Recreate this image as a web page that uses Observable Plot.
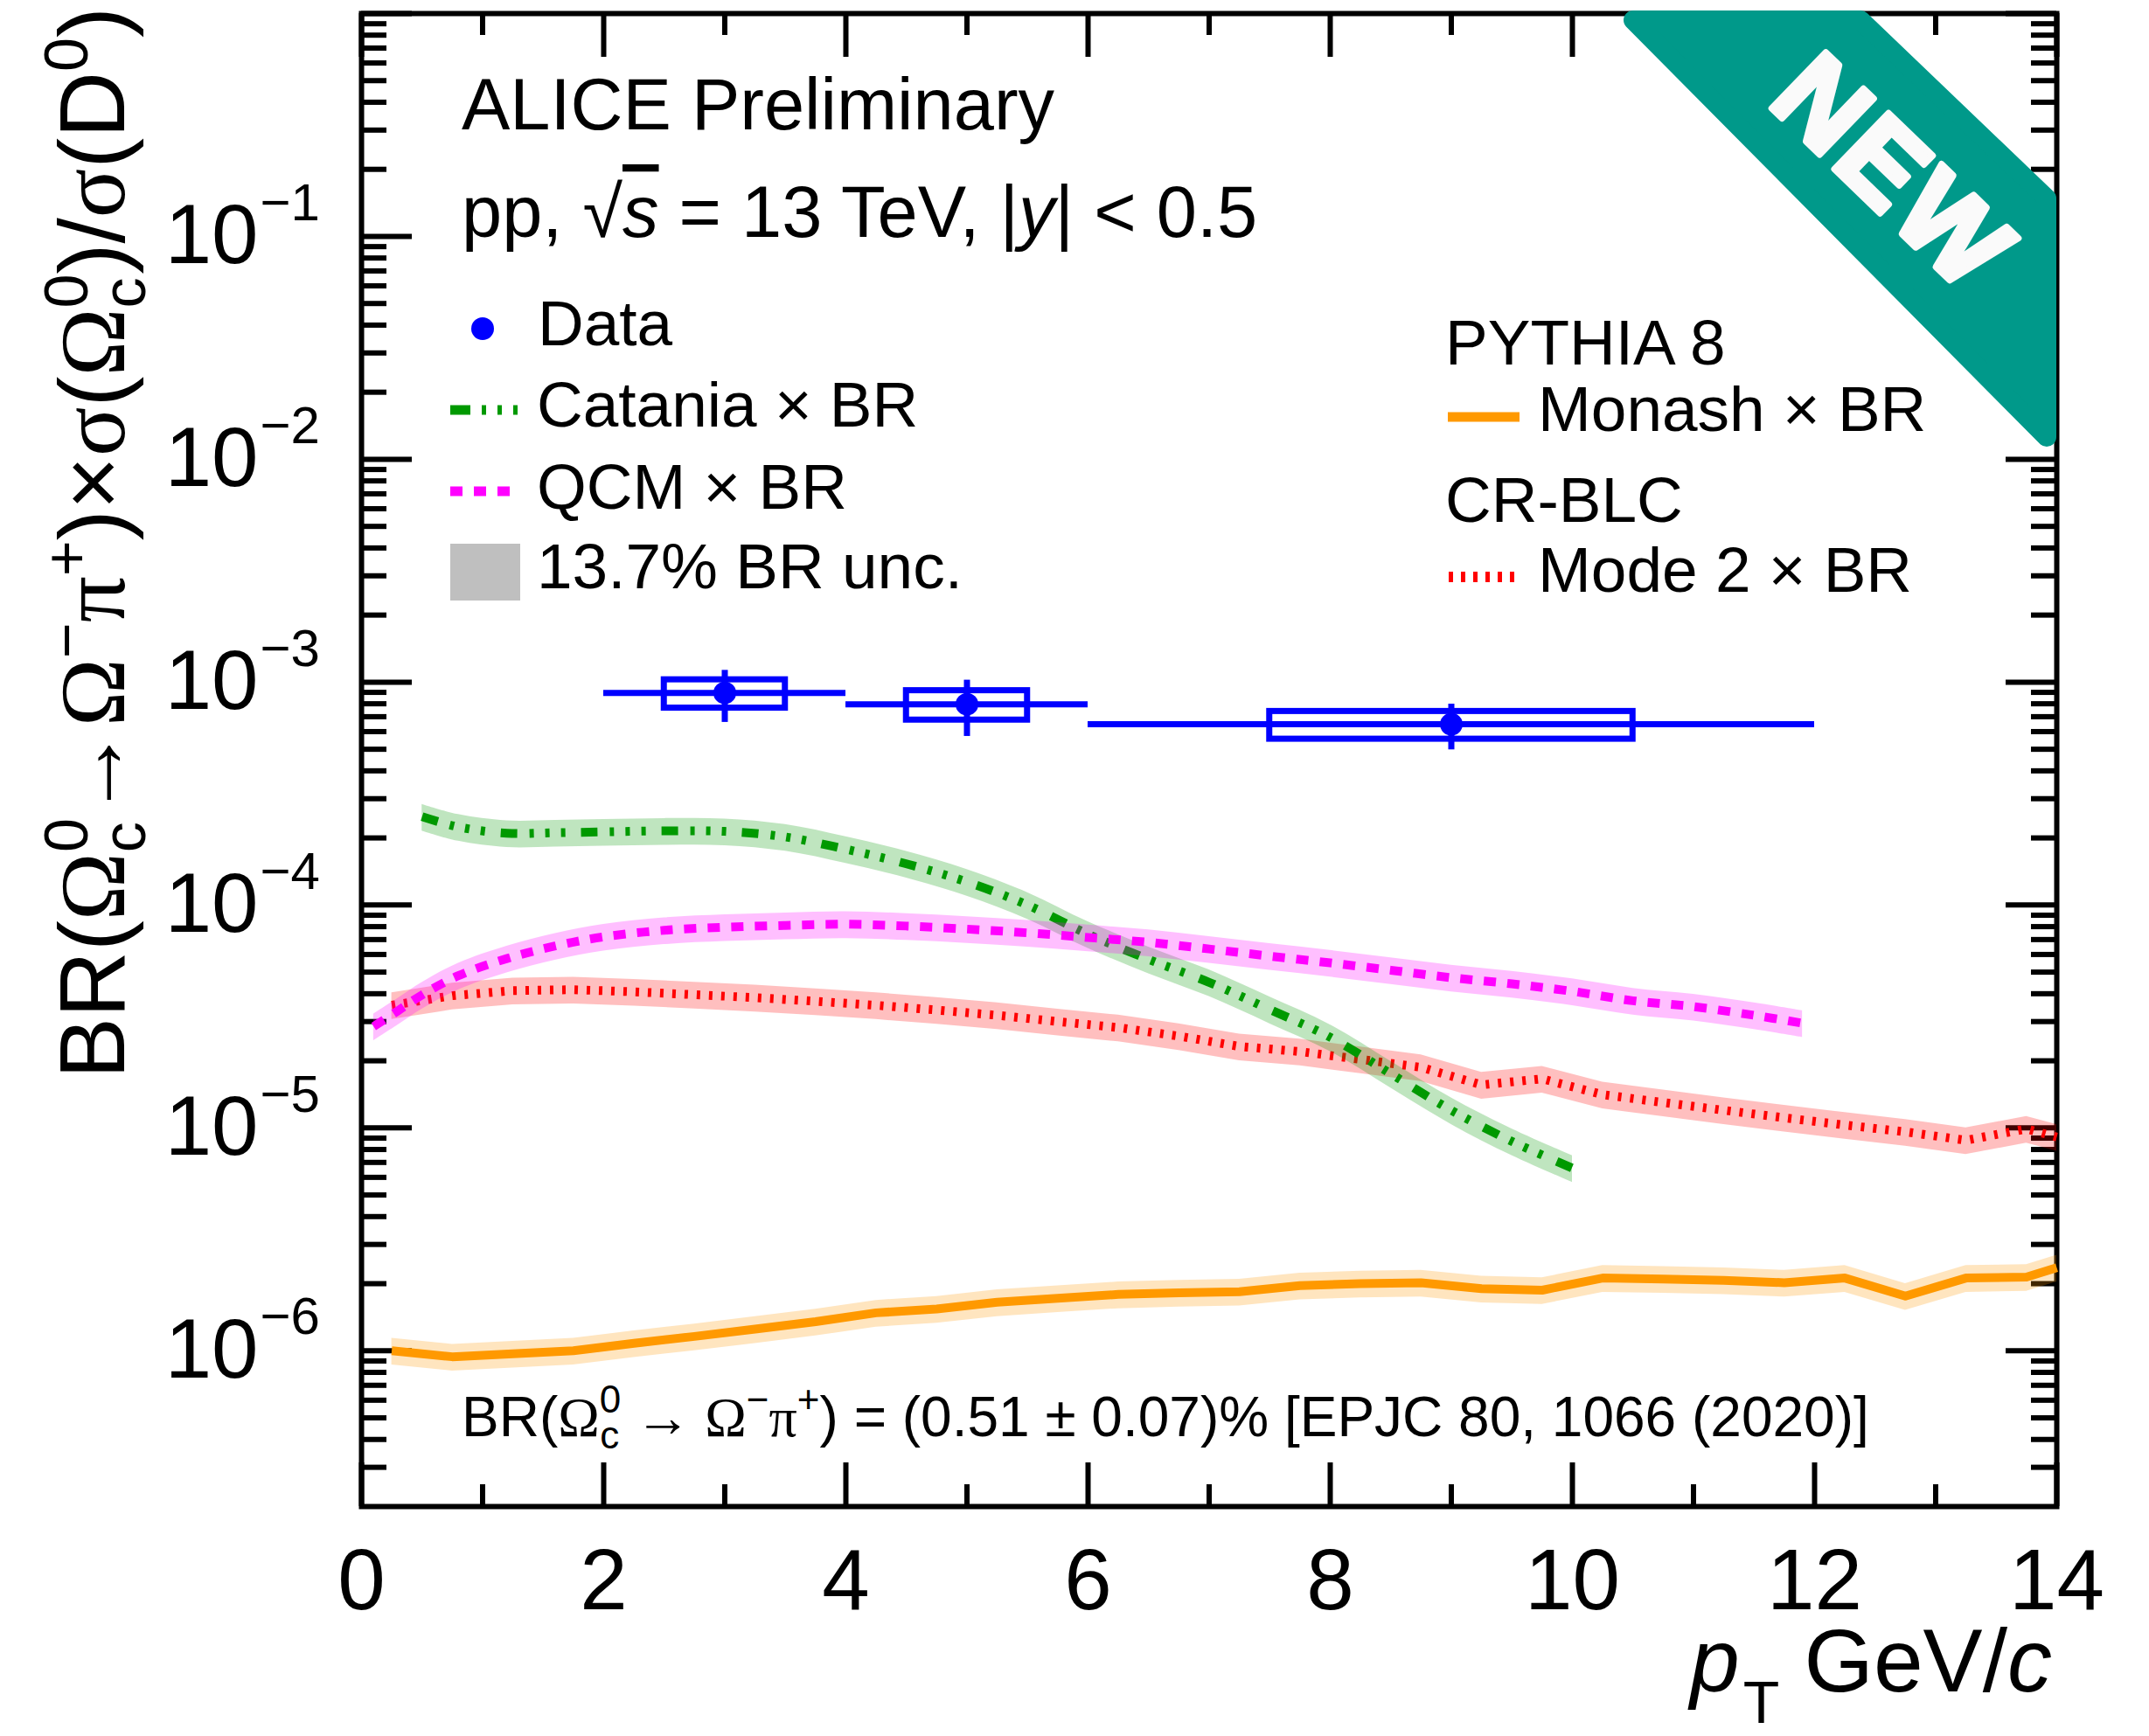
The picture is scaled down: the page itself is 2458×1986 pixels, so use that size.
<!DOCTYPE html>
<html><head><meta charset="utf-8">
<script src="https://cdn.jsdelivr.net/npm/d3@7"></script>
<script src="https://cdn.jsdelivr.net/npm/@observablehq/plot@0.6"></script>
<style>html,body{margin:0;padding:0;background:#fff;} svg{display:block;}</style>
</head><body><div id="chart"></div>
<script>
// ---------------- data ----------------
const dataPt    = [3, 5, 9];
const dataVal   = [8.95e-4, 7.96e-4, 6.47e-4];
const dataBinLo = [2, 4, 6];
const dataBinHi = [4, 6, 12];
const dataStat  = [2.35e-4, 2.25e-4, 1.5e-4];
const dataSyst  = [1.3e-4, 1.2e-4, 0.92e-4];
const dataBoxLo = [2.5, 4.5, 7.5];
const dataBoxHi = [3.5, 5.5, 10.5];

const cataniaPt  = [0.5, 0.8, 1.2, 1.6, 2.0, 2.5, 3.0, 3.5, 4.0, 4.5, 5.0, 5.5, 6.0, 6.5, 7.0, 7.5, 8.0, 8.5, 9.0, 9.5, 10.0];
const cataniaVal = [2.49e-4, 2.24e-4, 2.10e-4, 2.11e-4, 2.13e-4, 2.15e-4, 2.14e-4, 2.02e-4, 1.78e-4, 1.53e-4, 1.27e-4, 1.0e-4, 7.4e-5, 5.7e-5, 4.5e-5, 3.4e-5, 2.55e-5, 1.75e-5, 1.2e-5, 8.7e-6, 6.6e-6];

const qcmPt  = [0.1, 0.3, 0.5, 0.8, 1.2, 1.6, 2.0, 2.5, 3.0, 3.5, 4.0, 4.5, 5.0, 5.5, 6.0, 6.5, 7.0, 7.5, 8.0, 8.5, 9.0, 9.5, 10.0, 10.5, 11.0, 11.5, 11.9];
const qcmVal = [2.85e-5, 3.35e-5, 3.95e-5, 4.82e-5, 5.75e-5, 6.55e-5, 7.2e-5, 7.7e-5, 7.95e-5, 8.1e-5, 8.2e-5, 8.05e-5, 7.8e-5, 7.5e-5, 7.15e-5, 6.8e-5, 6.35e-5, 5.9e-5, 5.5e-5, 5.1e-5, 4.72e-5, 4.43e-5, 4.1e-5, 3.72e-5, 3.5e-5, 3.2e-5, 2.95e-5];

const mode2Pt  = [0.25, 0.75, 1.25, 1.75, 2.25, 2.75, 3.25, 3.75, 4.25, 4.75, 5.25, 5.75, 6.25, 6.75, 7.25, 7.75, 8.25, 8.75, 9.25, 9.75, 10.25, 10.75, 11.25, 11.75, 12.25, 12.75, 13.25, 13.75, 14.0];
const mode2Val = [3.55e-5, 3.92e-5, 4.13e-5, 4.17e-5, 4.08e-5, 3.96e-5, 3.84e-5, 3.7e-5, 3.55e-5, 3.38e-5, 3.2e-5, 3.0e-5, 2.82e-5, 2.58e-5, 2.32e-5, 2.2e-5, 2.03e-5, 1.87e-5, 1.56e-5, 1.66e-5, 1.41e-5, 1.3e-5, 1.2e-5, 1.11e-5, 1.03e-5, 9.6e-6, 8.8e-6, 9.9e-6, 9.1e-6];

const monashPt  = [0.25, 0.75, 1.25, 1.75, 2.25, 2.75, 3.25, 3.75, 4.25, 4.75, 5.25, 5.75, 6.25, 6.75, 7.25, 7.75, 8.25, 8.75, 9.25, 9.75, 10.25, 10.75, 11.25, 11.75, 12.25, 12.75, 13.25, 13.75, 14.0];
const monashVal = [1.0e-6, 9.4e-7, 9.7e-7, 1.0e-6, 1.08e-6, 1.16e-6, 1.25e-6, 1.35e-6, 1.48e-6, 1.54e-6, 1.65e-6, 1.72e-6, 1.79e-6, 1.82e-6, 1.84e-6, 1.96e-6, 2.0e-6, 2.02e-6, 1.9e-6, 1.87e-6, 2.12e-6, 2.1e-6, 2.07e-6, 2.02e-6, 2.12e-6, 1.76e-6, 2.12e-6, 2.14e-6, 2.36e-6];

const brUnc = 0.137;

const xMajorTicks = [0, 2, 4, 6, 8, 10, 12, 14];
const xMinorTicks = [1, 3, 5, 7, 9, 11, 13];
const yTickExponents = [-6, -5, -4, -3, -2, -1];

// ---------------- layout / style ----------------
const W = 2458, H = 1986;
const mL = 413, mR = 106, mT = 15, mB = 263;
const plotW = W - mL - mR, plotH = H - mT - mB;
const FONT = "'Liberation Sans', Arial, Helvetica, sans-serif";
const SERIF = "'Liberation Serif', 'Times New Roman', serif";
const BLUE = "#0000ff", GREEN = "#009900", MAGENTA = "#ff00ff", RED = "#ff0000", ORANGE = "#ff9900", GRAY = "#bfbfbf", TEAL = "#00998a";
const DASH_CAT = "19,14,5,13,5,13,5,18";
const DASH_QCM = "14,13";
const DASH_M2 = "4,10";

// ---------------- tables ----------------
const pts = dataPt.map((pt, i) => ({pt, v: dataVal[i], lo: dataBinLo[i], hi: dataBinHi[i], stat: dataStat[i], syst: dataSyst[i], blo: dataBoxLo[i], bhi: dataBoxHi[i]}));
const toRows = (xs, ys) => xs.map((pt, i) => ({pt, v: ys[i]}));
const catania = toRows(cataniaPt, cataniaVal);
const qcm = toRows(qcmPt, qcmVal);
const mode2 = toRows(mode2Pt, mode2Val);
const monash = toRows(monashPt, monashVal);

const yMajor = [-7, -6, -5, -4, -3, -2, -1, 0].map(e => 10 ** e).filter(v => v >= 2e-7 && v <= 1);
const yMinor = [];
for (let e = -7; e <= -1; e++) for (let m = 2; m <= 9; m++) { const v = m * 10 ** e; if (v > 2e-7 && v < 1) yMinor.push(v); }
const yLabels = yTickExponents.map(e => ({v: 10 ** e, e}));

function band(rows, color, curve) {
  return Plot.areaY(rows, {x: "pt", y1: d => d.v * (1 - brUnc), y2: d => d.v * (1 + brUnc), fill: color, fillOpacity: 0.25, curve});
}
function curveLine(rows, color, dash, curve) {
  return Plot.line(rows, {x: "pt", y: "v", stroke: color, strokeWidth: 10, strokeDasharray: dash, curve, strokeLinecap: "butt"});
}

const svgNode = Plot.plot({
  width: W, height: H,
  marginLeft: mL, marginRight: mR, marginTop: mT, marginBottom: mB,
  x: {domain: [0, 14], axis: null},
  y: {type: "log", domain: [2e-7, 1], axis: null},
  style: {fontFamily: FONT, background: "white", color: "black", overflow: "visible"},
  marks: [
    // ticks (inside, all four sides)
    Plot.tickX(xMajorTicks, {x: d => d, insetTop: plotH - 50, stroke: "black", strokeWidth: 6}),
    Plot.tickX(xMinorTicks, {x: d => d, insetTop: plotH - 25, stroke: "black", strokeWidth: 6}),
    Plot.tickX(xMajorTicks, {x: d => d, insetBottom: plotH - 50, stroke: "black", strokeWidth: 6}),
    Plot.tickX(xMinorTicks, {x: d => d, insetBottom: plotH - 25, stroke: "black", strokeWidth: 6}),
    Plot.tickY(yMajor, {y: d => d, insetRight: plotW - 58, stroke: "black", strokeWidth: 6}),
    Plot.tickY(yMinor, {y: d => d, insetRight: plotW - 29, stroke: "black", strokeWidth: 6}),
    Plot.tickY(yMajor, {y: d => d, insetLeft: plotW - 58, stroke: "black", strokeWidth: 6}),
    Plot.tickY(yMinor, {y: d => d, insetLeft: plotW - 29, stroke: "black", strokeWidth: 6}),
    Plot.frame({stroke: "black", strokeWidth: 6}),
    // tick labels
    Plot.text(xMajorTicks, {x: d => d, frameAnchor: "bottom", text: d => String(d), lineAnchor: "top", dy: 48, fontSize: 98, fill: "black"}),
    Plot.text(yLabels, {y: "v", frameAnchor: "left", text: () => "10", textAnchor: "end", lineAnchor: "middle", dx: -118, fontSize: 96, fill: "black"}),
    Plot.text(yLabels, {y: "v", frameAnchor: "left", text: d => "\u2212" + Math.abs(d.e), textAnchor: "start", lineAnchor: "middle", dx: -116, dy: -38, fontSize: 60, fill: "black"}),
    // models
    band(monash, ORANGE, "linear"),
    curveLine(monash, ORANGE, null, "linear"),
    band(mode2, RED, "linear"),
    curveLine(mode2, RED, DASH_M2, "linear"),
    band(catania, GREEN, "catmull-rom"),
    curveLine(catania, GREEN, DASH_CAT, "catmull-rom"),
    band(qcm, MAGENTA, "catmull-rom"),
    curveLine(qcm, MAGENTA, DASH_QCM, "catmull-rom"),
    // data
    Plot.rect(pts, {x1: "blo", x2: "bhi", y1: d => d.v - d.syst, y2: d => d.v + d.syst, fill: "none", stroke: BLUE, strokeWidth: 7}),
    Plot.ruleY(pts, {y: "v", x1: "lo", x2: "hi", stroke: BLUE, strokeWidth: 7}),
    Plot.ruleX(pts, {x: "pt", y1: d => d.v - d.stat, y2: d => d.v + d.stat, stroke: BLUE, strokeWidth: 7}),
    Plot.dot(pts, {x: "pt", y: "v", r: 13, fill: BLUE, stroke: "none"})
  ]
});
document.getElementById("chart").appendChild(svgNode);

// ---------------- annotations ----------------
const svg = d3.select(svgNode);

function richText(x, y, size, parts, opts = {}) {
  const t = svg.append("text").attr("x", x).attr("y", y).attr("font-size", size)
    .attr("font-family", FONT).attr("fill", "black")
    .attr("text-anchor", opts.anchor || "start");
  if (opts.transform) t.attr("transform", opts.transform).attr("x", 0).attr("y", 0);
  for (const p of parts) {
    const s = t.append("tspan").text(p.t);
    if (p.size) s.attr("font-size", p.size);
    if (p.dx) s.attr("dx", p.dx);
    if (p.dy) s.attr("dy", p.dy);
    if (p.serif) s.attr("font-family", SERIF);
    if (p.italic) s.attr("font-style", "italic");
    if (p.over) s.attr("text-decoration", "overline");
  }
  return t;
}

// header
richText(528, 148, 83, [{t: "ALICE Preliminary"}]);
richText(528, 271, 83, [
  {t: "pp, "}, {t: "\u221A"}, {t: "s", italic: true, over: true}, {t: " = 13 TeV, |"}, {t: "y", italic: true}, {t: "| < 0.5"}
]);

// left legend
svg.append("circle").attr("cx", 552).attr("cy", 376).attr("r", 13).attr("fill", BLUE);
richText(615, 395, 73, [{t: "Data"}]);
svg.append("line").attr("x1", 515).attr("x2", 592).attr("y1", 469).attr("y2", 469)
  .attr("stroke", GREEN).attr("stroke-width", 11).attr("stroke-dasharray", "23,13,5,13,5,13,5,40");
richText(614, 488, 73, [{t: "Catania \u00D7 BR"}]);
svg.append("line").attr("x1", 515).attr("x2", 584).attr("y1", 562).attr("y2", 562)
  .attr("stroke", MAGENTA).attr("stroke-width", 11).attr("stroke-dasharray", "14,13");
richText(614, 582, 73, [{t: "QCM \u00D7 BR"}]);
svg.append("rect").attr("x", 515).attr("y", 622).attr("width", 80).attr("height", 65).attr("fill", GRAY);
richText(614, 673, 73, [{t: "13.7% BR unc."}]);

// right legend
richText(1653, 417, 73, [{t: "PYTHIA 8"}]);
svg.append("line").attr("x1", 1656).attr("x2", 1738).attr("y1", 477).attr("y2", 477)
  .attr("stroke", ORANGE).attr("stroke-width", 11);
richText(1759, 493, 73, [{t: "Monash \u00D7 BR"}]);
richText(1653, 597, 73, [{t: "CR-BLC"}]);
svg.append("line").attr("x1", 1657).attr("x2", 1732).attr("y1", 660).attr("y2", 660)
  .attr("stroke", RED).attr("stroke-width", 12).attr("stroke-dasharray", "5,9");
richText(1759, 677, 73, [{t: "Mode 2 \u00D7 BR"}]);

// BR note
const bs = 44, bm = 64;
richText(528, 1643, bm, [
  {t: "BR("}, {t: "\u03A9", serif: true},
  {t: "0", size: bs, dy: -27}, {t: "c", size: bs, dx: -24, dy: 41},
  {t: " \u2192 ", dy: -14, dx: 2, serif: true}, {t: "\u03A9", serif: true},
  {t: "\u2212", size: bs, dy: -27}, {t: "\u03C0", serif: true, dy: 27},
  {t: "+", size: bs, dy: -27}, {t: ") = (0.51 \u00B1 0.07)% [EPJC 80, 1066 (2020)]", dy: 27}
]);

// y title
const ts = 105, tss = 70;
richText(0, 0, ts, [
  {t: "BR("}, {t: "\u03A9", serif: true},
  {t: "0", size: tss, dy: -42}, {t: "c", size: tss, dx: -39, dy: 66},
  {t: "\u2192", dy: -24, dx: 4}, {t: "\u03A9", serif: true},
  {t: "\u2212", size: tss, dy: -42}, {t: "\u03C0", serif: true, dy: 42},
  {t: "+", size: tss, dy: -42}, {t: ")\u00D7", dy: 42}, {t: "\u03C3", serif: true}, {t: "("}, {t: "\u03A9", serif: true},
  {t: "0", size: tss, dy: -42}, {t: "c", size: tss, dx: -39, dy: 66},
  {t: ")/", dy: -24, dx: 4}, {t: "\u03C3", serif: true}, {t: "(D"},
  {t: "0", size: tss, dy: -42}, {t: ")", dy: 42}
], {anchor: "end", transform: "translate(142,8) rotate(-90)"});

// x title
richText(2347, 1935, 102, [
  {t: "p", italic: true}, {t: "T", size: 68, dy: 36, dx: 4}, {t: " GeV/", dy: -36}, {t: "c", italic: true}
], {anchor: "end"});

// NEW banner
svg.append("path").attr("d", "M1868,23 L2128,23 L2341,227 L2341,500 Z")
  .attr("fill", TEAL).attr("stroke", TEAL).attr("stroke-width", 22).attr("stroke-linejoin", "round");
svg.append("text").attr("transform", "translate(2168,196) rotate(44)")
  .attr("text-anchor", "middle").attr("dy", "0.36em")
  .attr("font-family", FONT).attr("font-weight", "bold").attr("font-size", 130)
  .attr("letter-spacing", 6)
  .attr("fill", "#fafafa").attr("stroke", "#fafafa").attr("stroke-width", 7).attr("stroke-linejoin", "round")
  .text("NEW");
</script>
</body></html>
